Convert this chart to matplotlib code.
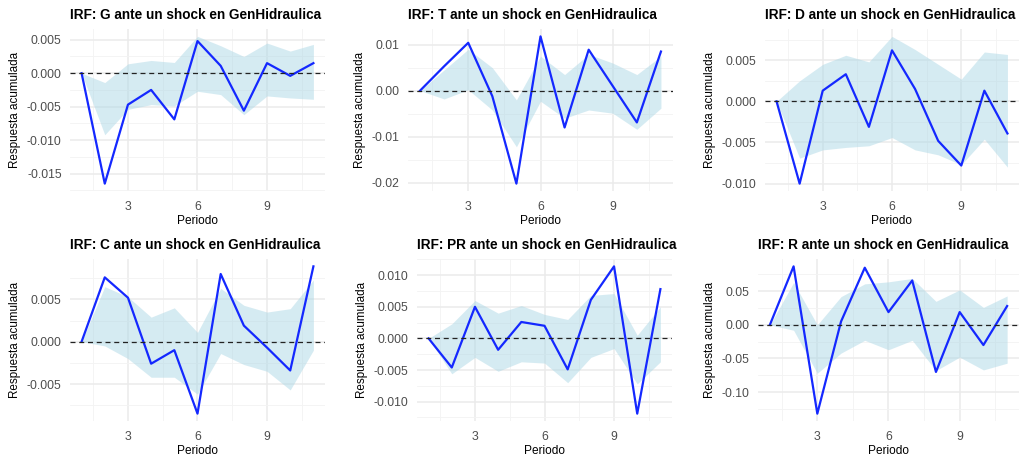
import matplotlib
matplotlib.use("Agg")
import matplotlib.pyplot as plt
from matplotlib.ticker import MultipleLocator, FuncFormatter

plt.rcParams["font.family"] = ["Liberation Sans", "DejaVu Sans"]

periodo = [1, 2, 3, 4, 5, 6, 7, 8, 9, 10, 11]
shock = "GenHidraulica"

variables = ["G", "T", "D", "C", "PR", "R"]

# respuesta acumulada e intervalos (inferior / superior) por variable
irf_G = [0, -0.0165, -0.0047, -0.0025, -0.0069, 0.0048, 0.0011, -0.0056, 0.0015, -0.0004, 0.0015]
low_G = [0, -0.0092, -0.0054, -0.0047, -0.0049, -0.0027, -0.0032, -0.0062, -0.0034, -0.0037, -0.0039]
upp_G = [0, -0.0014, 0.0014, 0.0019, 0.0016, 0.0055, 0.0041, 0.0025, 0.0045, 0.0033, 0.0043]

irf_T = [0, 0.0053, 0.0104, -0.0012, -0.0202, 0.0118, -0.0080, 0.0089, 0.0010, -0.0069, 0.0085]
low_T = [0, -0.0018, 0.0002, -0.0042, -0.0122, -0.0023, -0.0060, -0.0042, -0.0049, -0.0084, -0.0038]
upp_T = [0, 0.0045, 0.0090, 0.0050, -0.0020, 0.0075, 0.0035, 0.0079, 0.0060, 0.0035, 0.0075]

irf_D = [0, -0.0100, 0.0013, 0.0033, -0.0031, 0.0062, 0.0015, -0.0048, -0.0078, 0.0013, -0.0039]
low_D = [0, -0.0069, -0.0059, -0.0056, -0.0054, -0.0044, -0.0059, -0.0065, -0.0077, -0.0046, -0.0080]
upp_D = [0, 0.0025, 0.0045, 0.0056, 0.0048, 0.0079, 0.0063, 0.0045, 0.0027, 0.0060, 0.0057]

irf_C = [0, 0.0076, 0.0052, -0.0026, -0.0010, -0.0085, 0.0080, 0.0019, -0.0007, -0.0034, 0.0089]
low_C = [0, -0.0005, -0.0020, -0.0042, -0.0042, -0.0062, -0.0014, -0.0027, -0.0035, -0.0057, -0.0010]
upp_C = [0, 0.0065, 0.0053, 0.0029, 0.0040, 0.0011, 0.0063, 0.0043, 0.0035, 0.0039, 0.0073]

irf_PR = [0, -0.0046, 0.0050, -0.0018, 0.0026, 0.0020, -0.0049, 0.0061, 0.0114, -0.0119, 0.0078]
low_PR = [0, -0.0056, -0.0030, -0.0052, -0.0037, -0.0039, -0.0070, -0.0030, -0.0016, -0.0072, -0.0037]
upp_PR = [0, 0.0023, 0.0060, 0.0040, 0.0052, 0.0038, 0.0030, 0.0068, 0.0071, 0.0005, 0.0050]

irf_R = [0, 0.087, -0.132, 0.005, 0.085, 0.019, 0.066, -0.070, 0.019, -0.030, 0.028]
low_R = [0, -0.008, -0.072, -0.042, -0.023, -0.037, -0.023, -0.068, -0.048, -0.067, -0.057]
upp_R = [0, 0.063, 0.000, 0.042, 0.061, 0.064, 0.069, 0.035, 0.052, 0.026, 0.043]

series = {
    "G": (irf_G, low_G, upp_G),
    "T": (irf_T, low_T, upp_T),
    "D": (irf_D, low_D, upp_D),
    "C": (irf_C, low_C, upp_C),
    "PR": (irf_PR, low_PR, upp_PR),
    "R": (irf_R, low_R, upp_R),
}

# paso de los cortes del eje y y decimales de las etiquetas
y_step = {"G": 0.005, "T": 0.01, "D": 0.005, "C": 0.005, "PR": 0.005, "R": 0.05}
y_dec = {"G": 3, "T": 2, "D": 3, "C": 3, "PR": 3, "R": 2}


def fmt(dec):
    def f(v, pos):
        if abs(v) < 1e-12:
            v = 0.0
        return f"{v:.{dec}f}"
    return FuncFormatter(f)


W, H = 1020, 458
fig = plt.figure(figsize=(W / 100, H / 100), dpi=100)

# cajas de los paneles en pixeles: (izq, der, arriba, abajo)
boxes = [
    (70, 325, 29, 191), (408, 673, 29, 191), (765, 1019, 29, 191),
    (70, 325, 259, 421), (417, 672, 259, 421), (758, 1019, 259, 421),
]

grid_col = "#EBEBEB"

for var, (l, r, t, b) in zip(variables, boxes):
    ax = fig.add_axes([l / W, 1 - b / H, (r - l) / W, (b - t) / H])
    irf, low, upp = series[var]

    ax.fill_between(periodo, low, upp, color="lightblue", alpha=0.5, linewidth=0)
    ax.plot(periodo, irf, color="#1428ff", linewidth=1.6, solid_joinstyle="round")
    ax.axhline(0, color="#222222", linestyle=(0, (4, 3)), linewidth=0.9)

    ax.margins(x=0.05, y=0.05)
    ax.xaxis.set_major_locator(MultipleLocator(3))
    ax.xaxis.set_minor_locator(MultipleLocator(1.5))
    ax.yaxis.set_major_locator(MultipleLocator(y_step[var]))
    ax.yaxis.set_minor_locator(MultipleLocator(y_step[var] / 2))
    ax.yaxis.set_major_formatter(fmt(y_dec[var]))

    ax.grid(True, which="major", color=grid_col, linewidth=1.1)
    ax.grid(True, which="minor", color="#F3F3F3", linewidth=0.6)
    ax.set_axisbelow(True)
    for s in ax.spines.values():
        s.set_visible(False)
    ax.tick_params(which="both", length=0, labelsize=8.8, labelcolor="#4D4D4D", pad=6)
    ax.tick_params(axis="x", pad=7)

    ax.set_title(f"IRF: {var} ante un shock en {shock}", loc="left",
                 fontsize=9.8, fontweight="bold", pad=7)
    ax.set_xlabel("Periodo", fontsize=8.6, labelpad=2)
    ax.set_ylabel("Respuesta acumulada", fontsize=8.4, labelpad=4)

fig.savefig("out.png", dpi=100)
